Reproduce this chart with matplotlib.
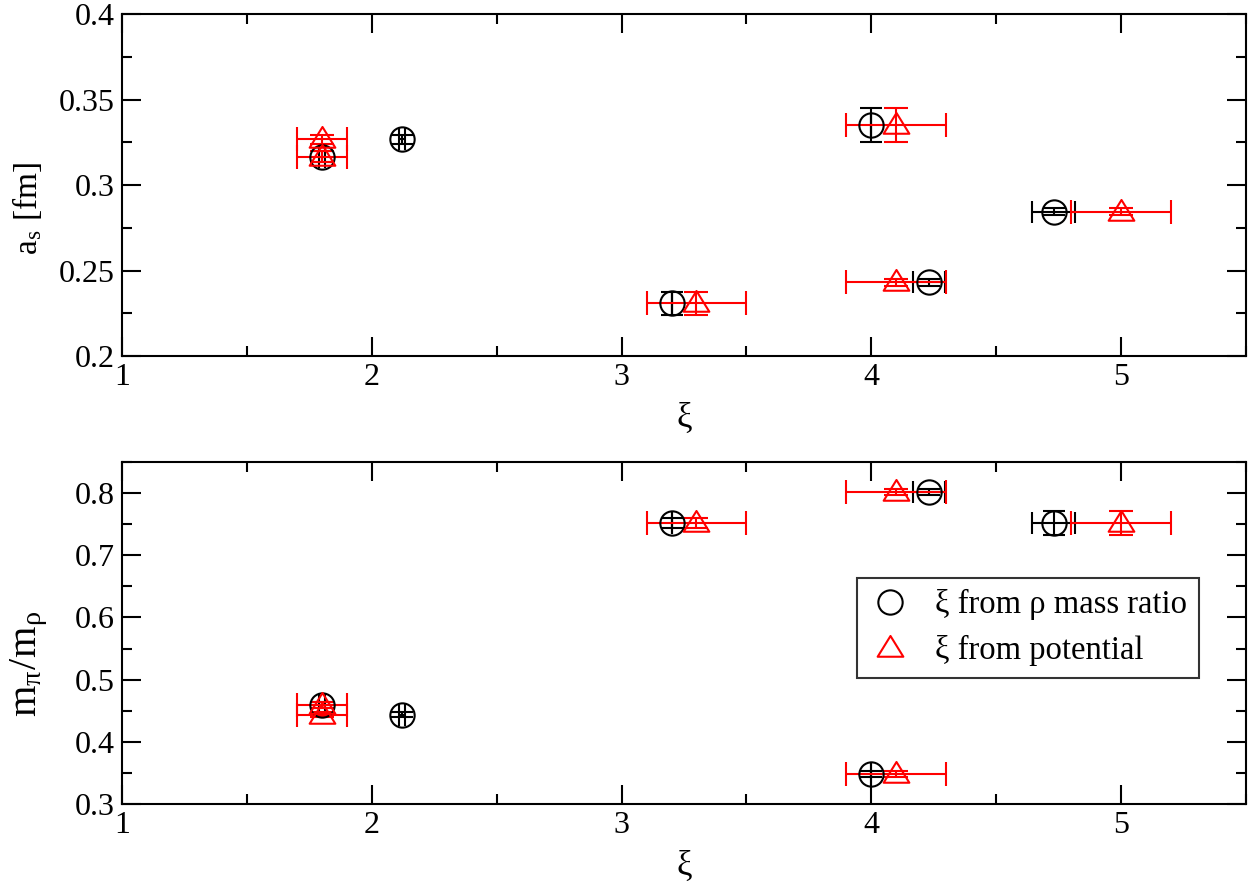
import matplotlib
matplotlib.use("Agg")
import matplotlib.pyplot as plt
from matplotlib.path import Path
from matplotlib.lines import Line2D
from matplotlib.ticker import MultipleLocator

# ---- data ----
rho_xi = [1.8, 2.12, 3.2, 4.0, 4.23, 4.73]
rho_xi_err = [0.013, 0.013, 0.0, 0.0, 0.063, 0.087]
pot_xi = [1.8, 1.8, 3.3, 4.1, 4.1, 5.0]
pot_xi_err = [0.1, 0.1, 0.2, 0.2, 0.2, 0.2]
a_s = [0.3166, 0.3267, 0.2308, 0.3351, 0.2431, 0.2844]
a_s_err = [0.003, 0.0025, 0.0066, 0.010, 0.002, 0.002]
mpi_mrho = [0.459, 0.4437, 0.7514, 0.348, 0.8016, 0.7514]
mpi_mrho_err = [0.005, 0.004, 0.008, 0.005, 0.005, 0.019]

legend_labels = ["ξ from ρ mass ratio", "ξ from potential"]

plt.rcParams['font.family'] = ['Liberation Serif', 'DejaVu Serif']
plt.rcParams['mathtext.fontset'] = 'stix'

tri = Path([(0, 11.7), (-12, -7.7), (12, -7.7), (0, 11.7)],
           [Path.MOVETO, Path.LINETO, Path.LINETO, Path.CLOSEPOLY])

fig = plt.figure(figsize=(12.53, 8.88), dpi=100)
ax1 = fig.add_axes([122/1253, 1-356/888, 1124/1253, 342/888])
ax2 = fig.add_axes([122/1253, 1-804/888, 1124/1253, 342/888])

lw = 1.5
CMS = 17.5
TMS = 18.5
FS = 23
circ_kw = dict(fmt='o', ms=CMS, mfc='none', mec='black', mew=lw, ecolor='black',
               elinewidth=lw, capsize=8, capthick=lw, zorder=3)
tri_kw = dict(fmt='none', ecolor='red', elinewidth=lw, capsize=8.5, capthick=lw, zorder=3)

for ax, y, yerr in [(ax1, a_s, a_s_err), (ax2, mpi_mrho, mpi_mrho_err)]:
    ax.errorbar(rho_xi, y, xerr=rho_xi_err, yerr=yerr, **circ_kw)
    ax.errorbar(pot_xi, y, xerr=pot_xi_err, yerr=yerr, **tri_kw)
    ax.plot(pot_xi, y, linestyle='none', marker=tri, ms=TMS, mfc='none',
            mec='red', mew=lw, zorder=4)
    ax.set_xlim(1, 5.5)
    ax.xaxis.set_major_locator(MultipleLocator(1))
    ax.xaxis.set_minor_locator(MultipleLocator(0.5))
    ax.tick_params(which='both', direction='in', top=True, right=True,
                   labelsize=FS, width=lw, pad=5)
    ax.tick_params(which='major', length=14)
    ax.tick_params(which='minor', length=7)
    for s in ax.spines.values():
        s.set_linewidth(lw)
    ax.set_xlabel("ξ", fontsize=25, labelpad=7)

ax1.set_ylim(0.2, 0.4)
ax1.yaxis.set_minor_locator(MultipleLocator(0.025))
ax1.set_yticks([0.2, 0.25, 0.3, 0.35, 0.4])
ax1.set_yticklabels(["0.2", "0.25", "0.3", "0.35", "0.4"])
ax1.set_ylabel(r"a$_\mathregular{s}$ [fm]", fontsize=24)
ax1.yaxis.set_label_coords(-0.069, 0.43)

ax2.set_ylim(0.3, 0.85)
ax2.yaxis.set_minor_locator(MultipleLocator(0.05))
ax2.set_yticks([0.3, 0.4, 0.5, 0.6, 0.7, 0.8])
ax2.set_yticklabels(["0.3", "0.4", "0.5", "0.6", "0.7", "0.8"])
ax2.set_ylabel(r"m$_{\mathregular{\pi}}$/m$_{\mathregular{\rho}}$", fontsize=29)
ax2.yaxis.set_label_coords(-0.064, 0.41)

handles = [Line2D([], [], linestyle='none', marker='o', ms=CMS, mfc='none', mec='black', mew=lw),
           Line2D([], [], linestyle='none', marker=tri, ms=TMS, mfc='none', mec='red', mew=lw)]
leg = ax2.legend(handles, legend_labels, loc='upper left', bbox_to_anchor=(0.654, 0.661),
                 fontsize=23.5, frameon=True, fancybox=False, edgecolor='black',
                 handlelength=1.3, handletextpad=0.75, borderpad=0.35, labelspacing=0.45,
                 borderaxespad=0)
leg.get_frame().set_linewidth(lw)

fig.savefig("out.png", dpi=100)
